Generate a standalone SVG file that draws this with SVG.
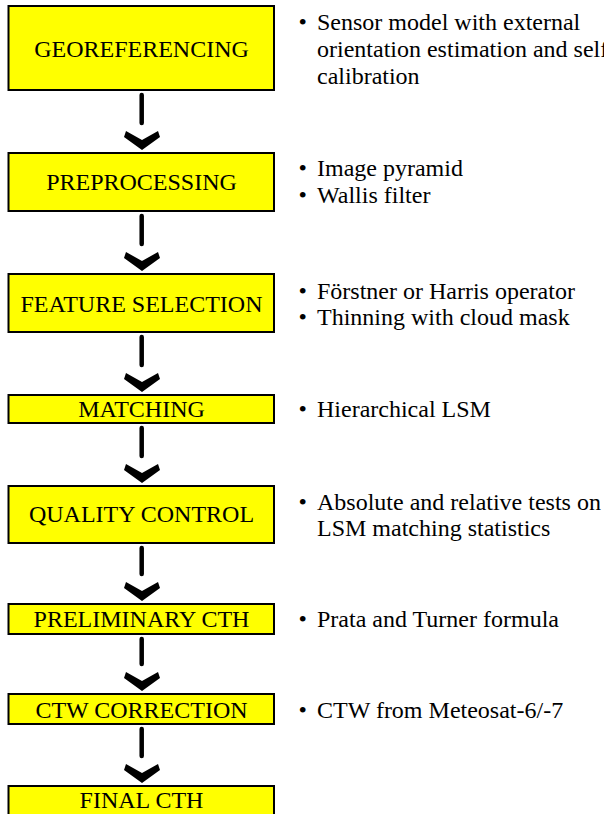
<svg xmlns="http://www.w3.org/2000/svg" width="604" height="814" viewBox="0 0 604 814">
<defs>
<style>
.box{fill:#FFFF00;stroke:#000;stroke-width:2}
.lbl{font-size:24px;fill:#000;text-anchor:middle}
.txt{font-size:24px;fill:#000}
.shaft{stroke:#000;stroke-width:4.5;stroke-linecap:round;fill:none}
.head{fill:#000}
</style>
<path id="chev" d="M-18,-13 L-16,-19 L0,-10 L16,-19 L18,-13 L0,0 Z"/>
</defs>
<rect width="604" height="814" fill="#fff"/>
<g id="connectors">
<line class="shaft" x1="141.7" y1="95" x2="141.7" y2="123"/>
<use href="#chev" class="head" x="142" y="150"/>
<line class="shaft" x1="141.7" y1="216" x2="141.7" y2="244"/>
<use href="#chev" class="head" x="142" y="271"/>
<line class="shaft" x1="141.7" y1="337" x2="141.7" y2="365"/>
<use href="#chev" class="head" x="142" y="392"/>
<line class="shaft" x1="141.7" y1="428" x2="141.7" y2="456"/>
<use href="#chev" class="head" x="142" y="483"/>
<line class="shaft" x1="141.7" y1="548" x2="141.7" y2="574"/>
<use href="#chev" class="head" x="142" y="601"/>
<line class="shaft" x1="141.7" y1="639" x2="141.7" y2="664"/>
<use href="#chev" class="head" x="142" y="691"/>
<line class="shaft" x1="141.7" y1="729" x2="141.7" y2="756"/>
<use href="#chev" class="head" x="142" y="783"/>
</g>
<g font-family="'Liberation Serif', 'DejaVu Serif', serif">
<g id="georeferencing">
<rect class="box" x="8.5" y="6" width="265.5" height="84"/>
<text class="lbl" x="141.5" y="57">GEOREFERENCING</text>
<text class="txt" x="298.5" y="30">•</text>
<text class="txt" x="317" y="30">Sensor model with external</text>
<text class="txt" x="317" y="57">orientation estimation and self</text>
<text class="txt" x="317" y="84">calibration</text>
</g>
<g id="preprocessing">
<rect class="box" x="8.5" y="153" width="265.5" height="58"/>
<text class="lbl" x="141.5" y="190">PREPROCESSING</text>
<text class="txt" x="298.5" y="176">•</text>
<text class="txt" x="317" y="176">Image pyramid</text>
<text class="txt" x="298.5" y="203">•</text>
<text class="txt" x="317" y="203">Wallis filter</text>
</g>
<g id="feature-selection">
<rect class="box" x="8.5" y="274" width="265.5" height="58"/>
<text class="lbl" x="141.5" y="312">FEATURE SELECTION</text>
<text class="txt" x="298.5" y="298.5">•</text>
<text class="txt" x="317" y="298.5">Förstner or Harris operator</text>
<text class="txt" x="298.5" y="325">•</text>
<text class="txt" x="317" y="325">Thinning with cloud mask</text>
</g>
<g id="matching">
<rect class="box" x="8.5" y="395" width="265.5" height="28"/>
<text class="lbl" x="141.5" y="417">MATCHING</text>
<text class="txt" x="298.5" y="417">•</text>
<text class="txt" x="317" y="417">Hierarchical LSM</text>
</g>
<g id="quality-control">
<rect class="box" x="8.5" y="486" width="265.5" height="57"/>
<text class="lbl" x="141.5" y="522">QUALITY CONTROL</text>
<text class="txt" x="298.5" y="509.5">•</text>
<text class="txt" x="317" y="509.5">Absolute and relative tests on</text>
<text class="txt" x="317" y="536">LSM matching statistics</text>
</g>
<g id="preliminary-cth">
<rect class="box" x="8.5" y="604" width="265.5" height="30"/>
<text class="lbl" x="141.5" y="627">PRELIMINARY CTH</text>
<text class="txt" x="298.5" y="627">•</text>
<text class="txt" x="317" y="627">Prata and Turner formula</text>
</g>
<g id="ctw-correction">
<rect class="box" x="8.5" y="694" width="265.5" height="30"/>
<text class="lbl" x="141.5" y="718">CTW CORRECTION</text>
<text class="txt" x="298.5" y="718">•</text>
<text class="txt" x="317" y="718">CTW from Meteosat-6/-7</text>
</g>
<g id="final-cth">
<rect class="box" x="8.5" y="786" width="265.5" height="40"/>
<text class="lbl" x="141.5" y="808">FINAL CTH</text>
</g>
</g>
</svg>
